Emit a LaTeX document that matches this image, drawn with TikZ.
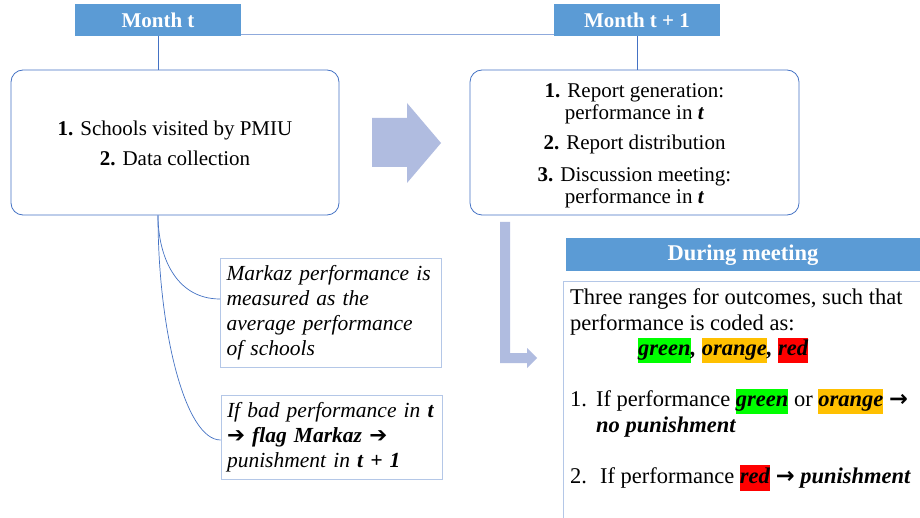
\documentclass[tikz,border=0pt]{standalone}
\usepackage{fontspec}
\setmainfont{Liberation Serif}
\newfontfamily\symfont{DejaVu Sans}
\usetikzlibrary{calc}
\definecolor{hdrblue}{HTML}{5B9BD5}
\definecolor{lineblue}{HTML}{4472C4}
\definecolor{toplineblue}{HTML}{8FAADC}
\definecolor{arrowfill}{HTML}{B0BCE0}
\definecolor{noteborder}{HTML}{B4C7E7}
\definecolor{hlgreen}{HTML}{00FF00}
\definecolor{hlorange}{HTML}{FFC000}
\definecolor{hlred}{HTML}{FF0000}
\newcommand{\hlbox}[2]{{\setlength{\fboxsep}{0pt}\colorbox{#1}{\strut #2}}}
\newcommand{\bi}[1]{\textbf{\textit{#1}}}
\newcommand{\harr}{{\symfont\bfseries ➔}}
\newcommand{\tarr}{{\symfont\bfseries →}}
\begin{document}
\begin{tikzpicture}[x=1pt,y=-1pt,
  monthbox/.style={fill=hdrblue, text=white, font=\bfseries\fontsize{21}{24}\selectfont, minimum width=166pt, minimum height=32pt, inner sep=0pt},
  stagebox/.style={draw=lineblue, rounded corners=12pt, line width=0.8pt, minimum height=145pt, inner sep=0pt},
  stagetext/.style={align=center, inner sep=0pt, font=\fontsize{21}{22}\selectfont},
  notebox/.style={draw=noteborder, line width=0.8pt, align=left, text width=209pt, inner xsep=6pt, inner ysep=0pt, font=\itshape\fontsize{21.5}{25}\selectfont},
  conn/.style={draw=lineblue, line width=0.7pt},
  bigarrow/.style={fill=arrowfill, draw=none}
]
\useasboundingbox (0,0) rectangle (920,518);
\fill[white] (0,0) rectangle (920,518);

% month headers
\node[monthbox] (mt) at (158,20) {Month t};
\node[monthbox] (mt1) at (637,20) {Month t + 1};
\draw[draw=toplineblue, line width=0.8pt] ([yshift=2pt]mt.south east) -- ([yshift=2pt]mt1.south west);

% stage boxes
\node[stagebox, minimum width=328pt] (lb) at (175,142.5) {};
\node[stagetext] (lbt) at (175,143.5)
  {\textbf{1.} Schools visited by PMIU\\[8pt]\textbf{2.} Data collection};
\node[stagebox, minimum width=329pt] (rb) at (634.5,142.5) {};
\node[stagetext] (rbt) at (634.5,145.5)
  {\textbf{1.} Report generation:\\performance in \bi{t}\\[8pt]\textbf{2.} Report distribution\\[10pt]\textbf{3.} Discussion meeting:\\performance in \bi{t}};

\draw[conn] (mt.south) -- (mt.south |- lb.north);
\draw[conn] (mt1.south) -- (mt1.south |- rb.north);

% big arrow between stages
\fill[bigarrow] (372,118) -- (407,118) -- (407,103) -- (441,143) -- (407,183) -- (407,167) -- (372,167) -- cycle;

% notes
\node[notebox, minimum height=109pt] (n1) at (331,312.5)
  {Markaz performance is\\measured as the\\average performance\\of schools};
\node[notebox, minimum height=84pt] (n2) at (331.5,437)
  {If bad performance in \textbf{t}\\\harr{} \textbf{flag Markaz} \harr\\punishment in \textbf{t + 1}};

\coordinate (lbs) at (mt |- lb.south);
\draw[conn] (lbs) .. controls (158,255) and (175,299) .. ([yshift=13.5pt]n1.west);
\draw[conn] (lbs) .. controls (158,330) and (185,440) .. ([yshift=-3pt]n2.west);

% L-shaped arrow
\fill[bigarrow] (500,222) -- (510,222) -- (510,353) -- (527,353) -- (527,348) -- (537,358) -- (527,368) -- (527,363) -- (500,363) -- cycle;

% during meeting
\node[monthbox, minimum width=354pt, minimum height=33pt, font=\bfseries\fontsize{22.5}{25}\selectfont] (dm) at (743,255) {During meeting};
\draw[draw=noteborder, line width=0.8pt] (563,530) -- (563,281) -- (930,281);
\node[anchor=north west, inner xsep=0pt, inner ysep=0pt, align=left, font=\fontsize{22.5}{25.5}\selectfont] (dt) at (570,286.5)
  {\strut Three ranges for outcomes, such that\\
   performance is coded as:\\
   \hspace*{68pt}\hlbox{hlgreen}{\bi{green}}\bi{,} \hlbox{hlorange}{\bi{orange}}\bi{,} \hlbox{hlred}{\bi{red}}\\
   \strut\\
   1.\hspace{9pt}If performance \hlbox{hlgreen}{\bi{green}} or \hlbox{hlorange}{\bi{orange}} \tarr\\
   \hspace*{26pt}\bi{no punishment}\\
   \strut\\
   2.\hspace{13pt}If performance \hlbox{hlred}{\bi{red}} \tarr{} \bi{punishment}};
\end{tikzpicture}
\end{document}
